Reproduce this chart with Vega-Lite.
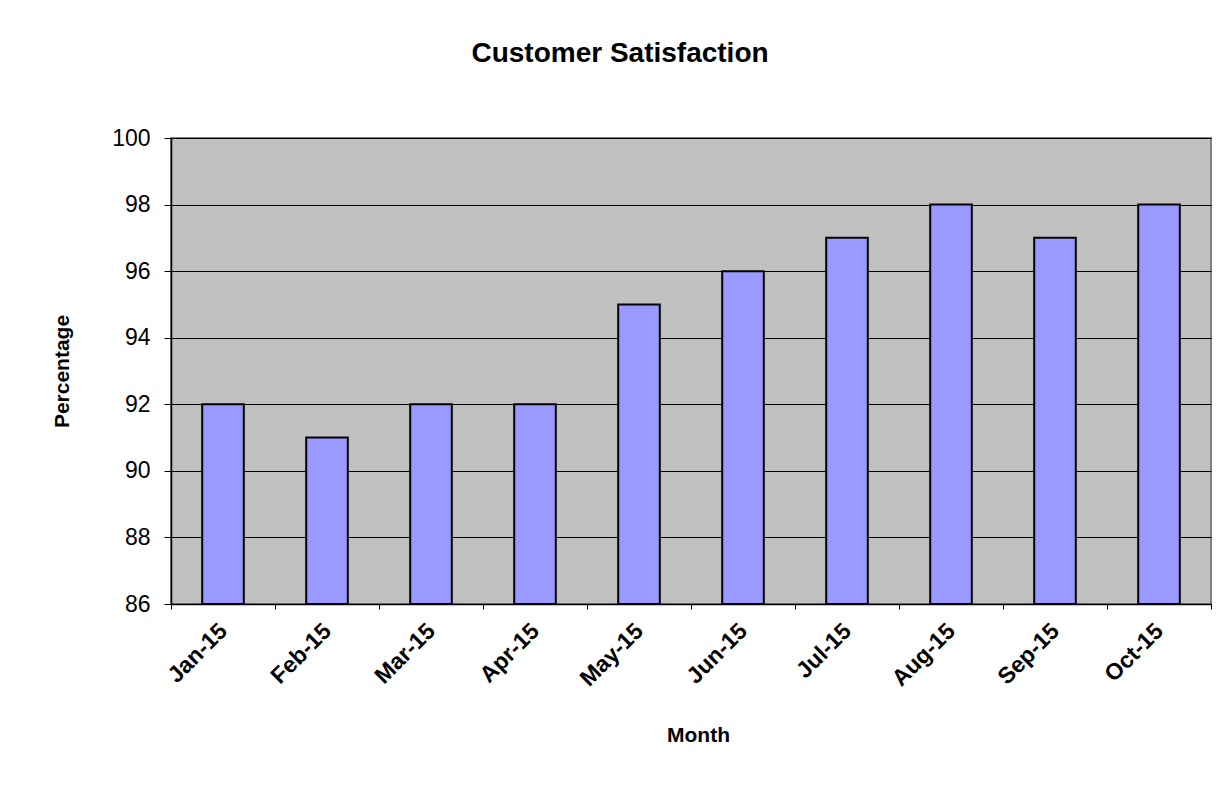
{
  "$schema": "https://vega.github.io/schema/vega-lite/v6.json",
  "width": 1040,
  "height": 466,
  "autosize": {"type": "none"},
  "padding": {"left": 171, "top": 138, "right": 20, "bottom": 184},
  "background": "white",
  "title": {
    "text": "Customer Satisfaction",
    "font": "Liberation Sans",
    "fontSize": 28,
    "fontWeight": "bold",
    "color": "black",
    "anchor": "middle",
    "dx": -71,
    "offset": 59
  },
  "data": {
    "values": [
      {"month": "Jan-15", "pct": 92},
      {"month": "Feb-15", "pct": 91},
      {"month": "Mar-15", "pct": 92},
      {"month": "Apr-15", "pct": 92},
      {"month": "May-15", "pct": 95},
      {"month": "Jun-15", "pct": 96},
      {"month": "Jul-15", "pct": 97},
      {"month": "Aug-15", "pct": 98},
      {"month": "Sep-15", "pct": 97},
      {"month": "Oct-15", "pct": 98}
    ]
  },
  "mark": {
    "type": "bar",
    "fill": "#9999FF",
    "stroke": "black",
    "strokeWidth": 2,
    "width": {"band": 0.4}
  },
  "encoding": {
    "x": {
      "field": "month",
      "type": "ordinal",
      "sort": null,
      "scale": {"paddingInner": 0, "paddingOuter": 0},
      "axis": {
        "title": "Month",
        "titleFont": "Liberation Sans",
        "titleFontSize": 21,
        "titleFontWeight": "bold",
        "titleColor": "black",
        "titleX": 527,
        "titleY": 131,
        "titleBaseline": "middle",
        "titleAlign": "center",
        "labelFont": "Liberation Sans",
        "labelFontSize": 23,
        "labelFontWeight": "bold",
        "labelColor": "black",
        "labelAngle": -45,
        "labelAlign": "right",
        "labelBaseline": "middle",
        "labelPadding": 18,
        "tickBand": "extent",
        "tickColor": "black",
        "tickSize": 5,
        "domainColor": "black",
        "domainWidth": 1.5,
        "grid": false
      }
    },
    "y": {
      "field": "pct",
      "type": "quantitative",
      "scale": {"domain": [86, 100], "zero": false, "nice": false},
      "axis": {
        "title": "Percentage",
        "titleFont": "Liberation Sans",
        "titleFontSize": 21,
        "titleFontWeight": "bold",
        "titleColor": "black",
        "titleX": -109,
        "titleY": 233,
        "titleAngle": -90,
        "titleBaseline": "middle",
        "titleAlign": "center",
        "values": [86, 88, 90, 92, 94, 96, 98, 100],
        "labelFont": "Liberation Sans",
        "labelFontSize": 23,
        "labelColor": "black",
        "labelPadding": 14,
        "tickColor": "black",
        "tickSize": 7,
        "domainColor": "black",
        "domainWidth": 1.5,
        "grid": true,
        "gridColor": "black",
        "gridWidth": 1
      }
    },
    "y2": {"datum": 86}
  },
  "config": {
    "view": {"fill": "#C0C0C0", "stroke": "#808080", "strokeWidth": 2}
  }
}
